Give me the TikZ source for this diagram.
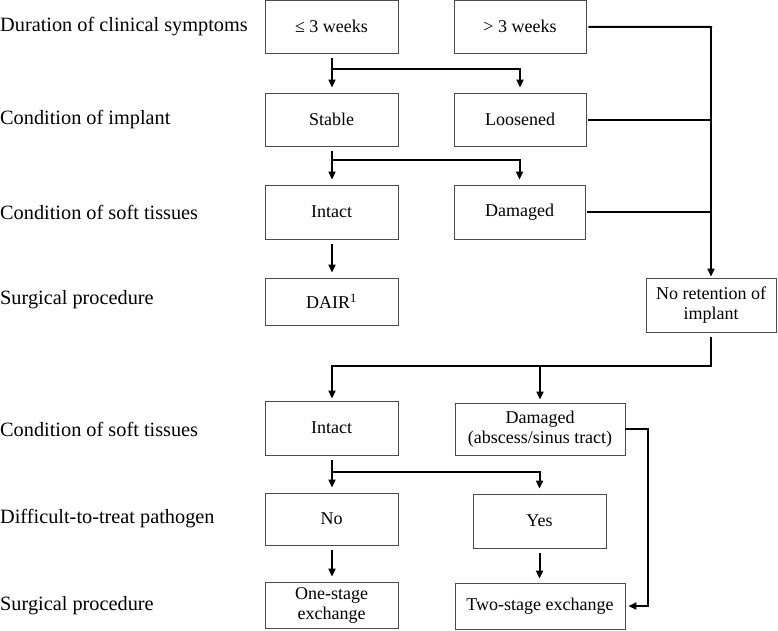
\documentclass[tikz,border=0pt]{standalone}
\usepackage{fontspec}
\setmainfont{Liberation Serif}
\usetikzlibrary{arrows.meta}
\begin{document}
\begin{tikzpicture}[x=1pt,y=-1pt,
  box/.style={draw=black!70, line width=0.9pt, inner sep=1pt, align=center, font=\fontsize{18}{20}\selectfont},
  lab/.style={anchor=west, inner sep=0pt, font=\fontsize{20.3}{22}\selectfont},
  conn/.style={line width=2pt},
  arr/.style={line width=2pt, -{Triangle[length=8pt,width=7pt]}},
  gapend/.style={shorten >=5pt},
  gapstart/.style={shorten <=5pt}]
\useasboundingbox (0,0) rectangle (778,630);
% left labels
\node[lab] (l1) at (0,27) {Duration of clinical symptoms};
\node[lab] (l2) at (0,120) {Condition of implant};
\node[lab] (l3) at (0,212) {Condition of soft tissues};
\node[lab] (l4) at (0,300) {Surgical procedure};
\node[lab] (l5) at (0,429) {Condition of soft tissues};
\node[lab] (l6) at (0,519) {Difficult-to-treat pathogen};
\node[lab] (l7) at (0,606) {Surgical procedure};
% boxes
\node[box, minimum width=133pt, minimum height=52.5pt] (w1) at (331.5,26.75) {≤ 3 weeks};
\node[box, minimum width=132pt, minimum height=52.5pt] (w2) at (520,26.75) {> 3 weeks};
\node[box, minimum width=133pt, minimum height=53pt] (stable) at (331.5,119.5) {Stable};
\node[box, minimum width=132pt, minimum height=53pt] (loose) at (520,119.5) {Loosened};
\node[box, minimum width=133pt, minimum height=54pt] (intact1) at (331.5,212) {Intact};
\node[box, minimum width=131pt, minimum height=54pt] (dam1) at (519.5,212) {Damaged};
\node[box, minimum width=133pt, minimum height=47pt] (dair) at (331.5,301.5) {DAIR\textsuperscript{1}};
\node[box, minimum width=130pt, minimum height=54pt] (noret) at (711,305) {No retention of\\implant};
\node[box, minimum width=133pt, minimum height=54pt] (intact2) at (331.5,428) {Intact};
\node[box, minimum width=170pt, minimum height=52pt] (dam2) at (540,429) {Damaged\\(abscess/sinus tract)};
\node[box, minimum width=133pt, minimum height=52pt] (no) at (331.5,519) {No};
\node[box, minimum width=133pt, minimum height=54pt] (yes) at (539.5,521) {Yes};
\node[box, minimum width=133pt, minimum height=46pt] (one) at (331.5,605) {One-stage\\exchange};
\node[box, minimum width=170pt, minimum height=46pt] (two) at (540,606) {Two-stage exchange};
% coordinates
\coordinate (b1) at (332,69);
\coordinate (b2) at (332,160);
\coordinate (r1) at (711,27);
\coordinate (b3) at (711,366);
\coordinate (b4) at (332,366);
\coordinate (b5) at (540,366);
\coordinate (b6) at (332,472);
\coordinate (d2r) at (648,429);
% connectors top part
\draw[arr, gapstart, gapend] (w1.south -| b1) -- (stable.north -| b1);
\draw[arr, gapend] ([xshift=-1pt]b1) -| (loose.north);
\draw[arr, gapstart, gapend] (stable.south -| b2) -- (intact1.north -| b2);
\draw[arr, gapend] ([xshift=-1pt]b2) -| (dam1.north);
\draw[arr, gapstart, gapend] (intact1.south -| b2) -- (dair.north -| b2);
\draw[conn, shorten <=2pt] (w2.east) -- ([xshift=1pt]r1);
\draw[conn, shorten <=2pt] (loose.east) -- (loose.east -| r1);
\draw[conn, shorten <=2pt] (dam1.east) -- (dam1.east -| r1);
\draw[arr, shorten >=1pt] ([yshift=-1pt]r1) -- (noret.north);
% lower part
\draw[conn, gapstart] (noret.south) -- ([yshift=1pt]b3);
\draw[arr, shorten >=2pt] ([xshift=1pt]b3) -- (b4) -- (intact2.north -| b4);
\draw[arr, shorten >=3pt] (b5) -- (dam2.north -| b5);
\draw[arr, gapstart, gapend] (intact2.south -| b6) -- (no.north -| b6);
\draw[arr, gapend] ([xshift=-1pt]b6) -| (yes.north);
\draw[arr, gapstart, gapend] (no.south -| b6) -- (one.north -| b6);
\draw[arr, gapstart, shorten >=4pt] (yes.south) -- (two.north -| yes.south);
\draw[arr, shorten >=3pt] (dam2.east) -- (d2r) |- (two.east);
\end{tikzpicture}
\end{document}
